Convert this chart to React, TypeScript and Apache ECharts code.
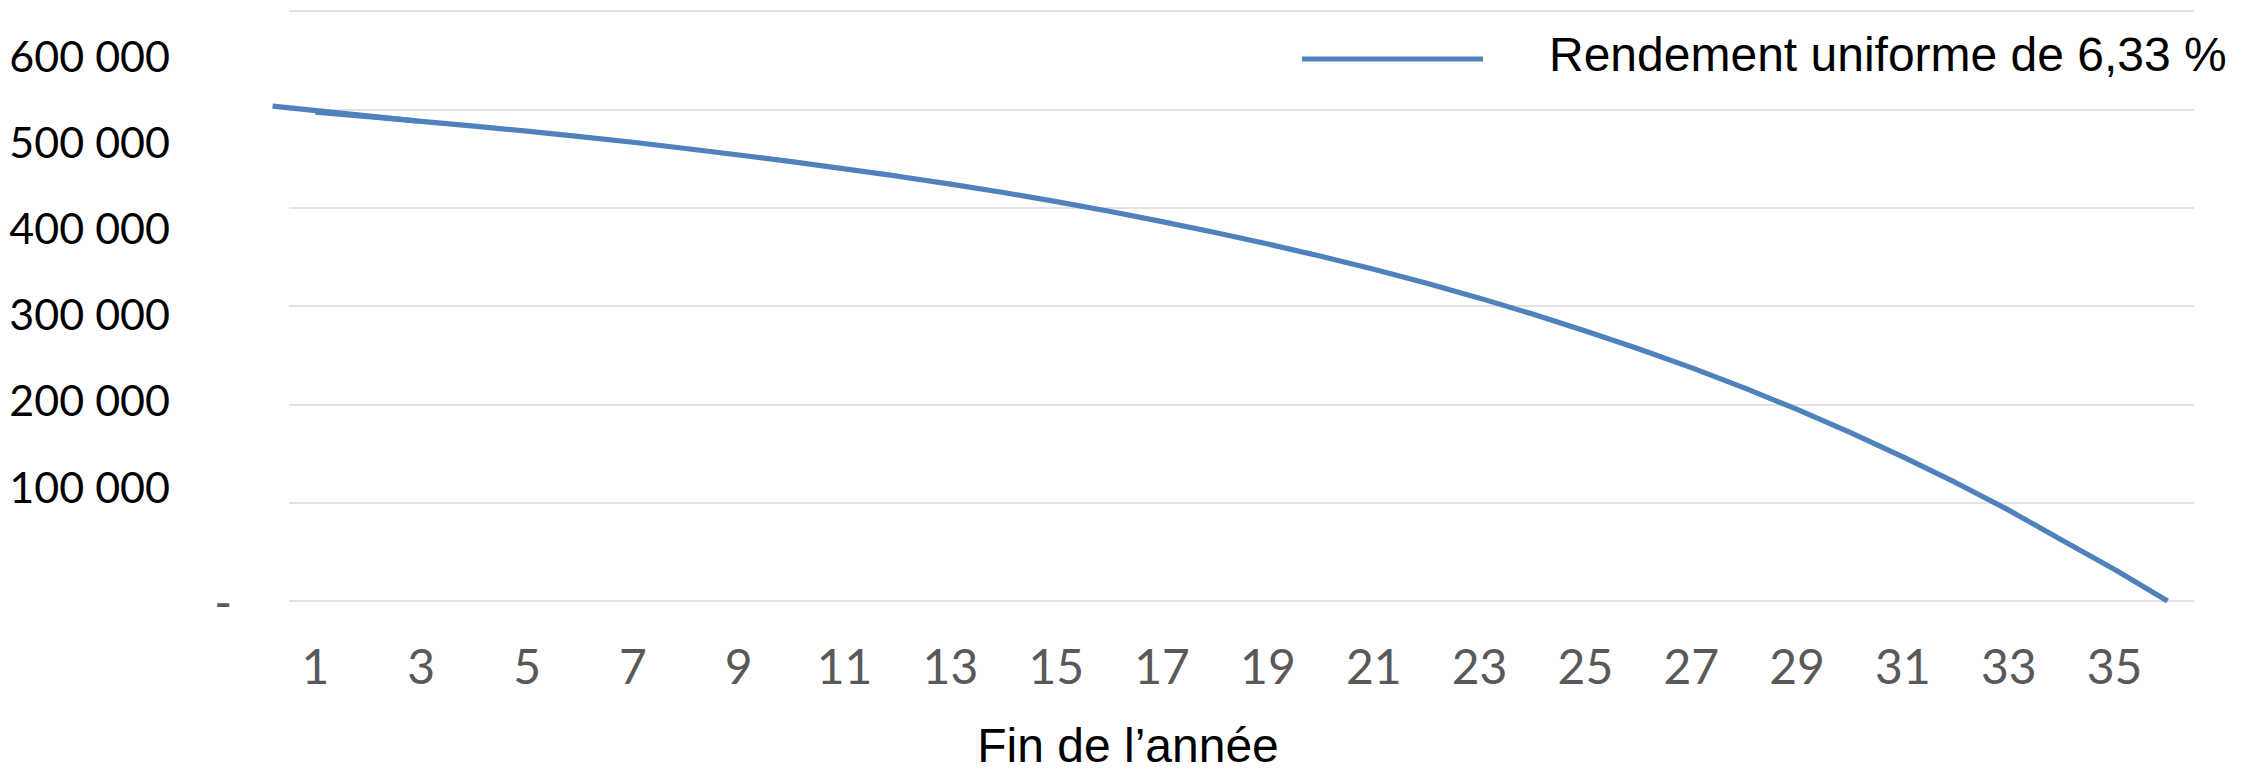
import { useEffect, useRef } from "react";
import * as echarts from "echarts";

// End-of-year index (1..36)
const years = [
  "1", "2", "3", "4", "5", "6", "7", "8", "9", "10", "11", "12",
  "13", "14", "15", "16", "17", "18", "19", "20", "21", "22", "23", "24",
  "25", "26", "27", "28", "29", "30", "31", "32", "33", "34", "35", "36",
];

// Remaining capital at the end of each year
const balances = [
  497000, 492500, 487800, 482900, 477800, 472300, 466500, 460200, 453600,
  446800, 439500, 432000, 424000, 415400, 406200, 396300, 385800, 374800,
  363000, 350500, 337300, 323200, 308000, 291800, 274600, 256500, 237300,
  216800, 194800, 171500, 146600, 120300, 92400, 62000, 32000, 0,
];

// Short leading stroke drawn over the start of the curve: [year position, amount]
const leadSegment = [
  [0.19, 503300],
  [2.9, 488300],
];

const seriesName = "Rendement uniforme de 6,33 %";
const axisTitle = "Fin de l\u2019ann\u00e9e";
const amountTicks = [100000, 200000, 300000, 400000, 500000, 600000];
const zeroTick = [0];

const BLUE = "#4f81bd";

const formatAmount = (v: number) =>
  String(Math.round(v)).replace(/\B(?=(\d{3})+(?!\d))/g, " ");

// Plot frame (px)
const PLOT_LEFT = 289;
const PLOT_RIGHT = 58;
const PLOT_TOP = 11;
const PLOT_BOTTOM = 169;
const STEP = (2252 - PLOT_LEFT - PLOT_RIGHT) / years.length;

export default function App() {
  const ref = useRef<HTMLDivElement>(null);

  useEffect(() => {
    if (!ref.current) return;
    const chart = echarts.init(ref.current, undefined, { renderer: "svg" });
    chart.setOption({
      animation: false,
      backgroundColor: "#ffffff",
      grid: [
        { left: PLOT_LEFT, right: PLOT_RIGHT, top: PLOT_TOP, bottom: PLOT_BOTTOM },
        // same scale, widened by one year on the left for the leading stroke
        { left: PLOT_LEFT - STEP, right: PLOT_RIGHT, top: PLOT_TOP, bottom: PLOT_BOTTOM },
      ],
      legend: {
        data: [{ name: seriesName, icon: "rect" }],
        left: 1302,
        top: 30,
        padding: 0,
        itemWidth: 181,
        itemHeight: 5,
        // the label sits a little above the centre of the sample line
        formatter: (name: string) => `{t|${name}}{s| }`,
        textStyle: {
          fontFamily: "Liberation Sans",
          fontSize: 48,
          color: "#000000",
          padding: [0, 0, 0, 61],
          rich: {
            t: {
              fontFamily: "Liberation Sans",
              fontSize: 48,
              lineHeight: 50,
              color: "#000000",
              verticalAlign: "top",
            },
            s: { fontSize: 1, lineHeight: 58, verticalAlign: "top" },
          },
        },
      },
      xAxis: [
        {
          type: "category",
          gridIndex: 0,
          data: years,
          boundaryGap: true,
          axisLine: { show: false },
          axisTick: { show: false },
          splitLine: { show: false },
          axisLabel: {
            interval: 1,
            color: "#595959",
            fontFamily: "Lato",
            fontSize: 48,
            margin: 40,
          },
        },
        { type: "value", gridIndex: 1, min: -0.5, max: 36.5, show: false },
      ],
      yAxis: [
        {
          type: "value",
          gridIndex: 0,
          min: 0,
          max: 600000,
          interval: 100000,
          axisLine: { show: false },
          axisTick: { show: false },
          splitLine: { lineStyle: { color: "#d9d9d9", width: 1.5 } },
          axisLabel: {
            customValues: zeroTick,
            formatter: () => "-",
            color: "#595959",
            fontFamily: "Lato",
            fontSize: 48,
            margin: 57,
          },
        },
        {
          type: "value",
          gridIndex: 0,
          position: "left",
          min: -33400,
          max: 651100,
          axisLine: { show: false },
          axisTick: { show: false },
          splitLine: { show: false },
          axisLabel: {
            customValues: amountTicks,
            formatter: (v: number) => formatAmount(v),
            color: "#000000",
            fontFamily: "Lato",
            fontSize: 43,
            margin: 119,
          },
        },
        { type: "value", gridIndex: 1, min: 0, max: 600000, show: false },
      ],
      series: [
        {
          name: seriesName,
          type: "line",
          xAxisIndex: 0,
          yAxisIndex: 0,
          data: balances,
          symbol: "none",
          showSymbol: false,
          itemStyle: { color: BLUE },
          lineStyle: { color: BLUE, width: 5.2 },
        },
        {
          name: "lead",
          type: "line",
          xAxisIndex: 1,
          yAxisIndex: 2,
          data: leadSegment,
          symbol: "none",
          showSymbol: false,
          itemStyle: { color: BLUE },
          lineStyle: { color: BLUE, width: 5.2 },
        },
      ],
      graphic: [
        {
          type: "text",
          x: 1128,
          y: 745,
          style: {
            text: axisTitle,
            fontFamily: "Liberation Sans",
            fontSize: 48,
            lineHeight: 44,
            fill: "#000000",
            align: "center",
            verticalAlign: "middle",
          },
        },
      ],
    });
    return () => chart.dispose();
  }, []);

  return (
    <div
      ref={ref}
      style={{ position: "fixed", left: 0, top: 0, width: 2252, height: 770 }}
    />
  );
}
